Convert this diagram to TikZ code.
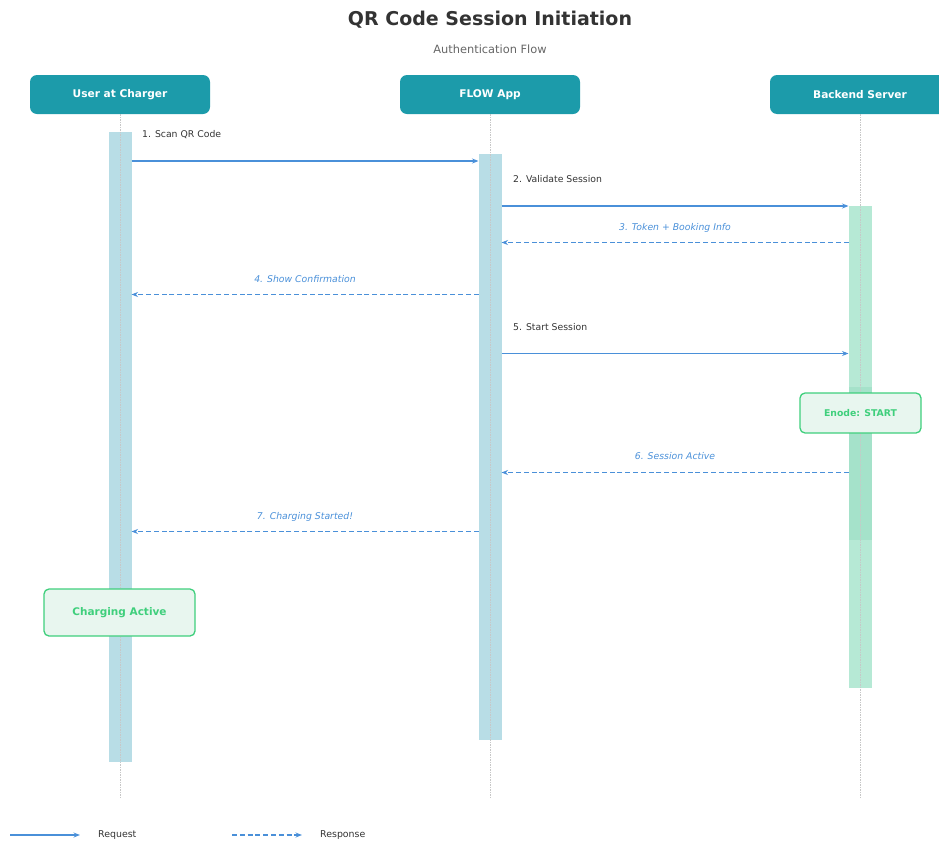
\documentclass[tikz,border=0pt]{standalone}
\usepackage{fontspec}
\setmainfont{DejaVu Sans}
\usetikzlibrary{arrows.meta}
\definecolor{actor}{HTML}{1C9BAA}
\definecolor{msg}{HTML}{4A90D9}
\definecolor{txt}{HTML}{333333}
\definecolor{subtxt}{HTML}{666666}
\definecolor{barblue}{HTML}{B8DDE6}
\definecolor{bargreen}{HTML}{B6E9D5}
\definecolor{bargreendk}{HTML}{A5E2CA}
\definecolor{okgreen}{HTML}{3FCF7C}
\definecolor{okfill}{HTML}{E8F6EF}
\tikzset{
  actorbox/.style={fill=actor, rounded corners=7pt, minimum width=180pt, minimum height=39pt,
    text=white, font=\fontsize{10.6}{12}\selectfont\bfseries, inner sep=0pt},
  lifeline/.style={draw=black!22, line width=0.5pt, dash pattern=on 1.5pt off 1pt},
  req/.style={draw=msg, line width=1.3pt, -{Stealth[length=6.5pt,width=5pt]}},
  resp/.style={draw=msg, line width=1.3pt, dash pattern=on 5pt off 2.8pt, -{Stealth[length=6.5pt,width=5pt]}},
  reqlabel/.style={anchor=base west, text=txt, font=\fontsize{9.3}{11}\selectfont, inner sep=0pt},
  resplabel/.style={anchor=base, text=msg, font=\fontsize{9.3}{11}\selectfont\itshape, inner sep=0pt},
  legendtext/.style={anchor=west, text=txt, font=\fontsize{9.4}{11}\selectfont, inner sep=0pt},
  notebox/.style={draw=okgreen, fill=okfill, line width=1.3pt, rounded corners=5pt,
    text=okgreen, inner sep=0pt},
}
\begin{document}
\begin{tikzpicture}[x=1pt, y=-1pt]
\useasboundingbox (0,0) rectangle (939,841);

% title
\node[text=txt, font=\fontsize{19}{22}\selectfont\bfseries] (title) at (490,20) {QR Code Session Initiation};
\node[text=subtxt, font=\fontsize{11.4}{13}\selectfont] (subtitle) at (490,49) {Authentication Flow};

% actors
\node[actorbox] (user) at (120,94.5) {User at Charger};
\node[actorbox] (app) at (490,94.5) {FLOW App};
\node[actorbox] (server) at (860,94.5) {Backend Server};

% activation bars
\fill[barblue] (108.5,131.5) rectangle (131.5,762);
\fill[barblue] (478.5,153.5) rectangle (501.5,740);
\fill[bargreen] (848.5,205.5) rectangle (871.5,688);
\fill[bargreendk] (848.5,387) rectangle (871.5,540);

% lifelines
\coordinate (userend) at (120,798);
\coordinate (append) at (490,798);
\coordinate (serverend) at (860,798);
\draw[lifeline] (user.south) -- (userend);
\draw[lifeline] (app.south) -- (append);
\draw[lifeline] (server.south) -- (serverend);

% messages
\coordinate (u1) at (131.5,161); \coordinate (a1) at (478.5,161);
\draw[req] (u1) -- (a1);
\node[reqlabel] (l1) at (142,137.5) {1. Scan QR Code};

\coordinate (a2) at (501.5,206); \coordinate (s2) at (848.5,206);
\draw[req] (a2) -- (s2);
\node[reqlabel] (l2) at (513,182) {2. Validate Session};

\coordinate (s3) at (848.5,242.5); \coordinate (a3) at (501.5,242.5);
\draw[resp] (s3) -- (a3);
\node[resplabel] (l3) at (675,230) {3. Token + Booking Info};

\coordinate (a4) at (478.5,294.5); \coordinate (u4) at (131.5,294.5);
\draw[resp] (a4) -- (u4);
\node[resplabel] (l4) at (305,282) {4. Show Confirmation};

\coordinate (a5) at (501.5,353.5); \coordinate (s5) at (848.5,353.5);
\draw[req] (a5) -- (s5);
\node[reqlabel] (l5) at (513,330) {5. Start Session};

\node[notebox, minimum width=121pt, minimum height=40pt, font=\fontsize{9.3}{11}\selectfont\bfseries] (enode) at (860.5,413) {Enode: START};

\coordinate (s6) at (848.5,472.5); \coordinate (a6) at (501.5,472.5);
\draw[resp] (s6) -- (a6);
\node[resplabel] (l6) at (675,459.5) {6. Session Active};

\coordinate (a7) at (478.5,531.5); \coordinate (u7) at (131.5,531.5);
\draw[resp] (a7) -- (u7);
\node[resplabel] (l7) at (305,519) {7. Charging Started!};

\node[notebox, minimum width=151pt, minimum height=47pt, font=\fontsize{10.5}{12}\selectfont\bfseries] (charging) at (119.5,612.5) {Charging Active};

% legend
\coordinate (r0) at (10,835); \coordinate (r1) at (80,835);
\draw[req] (r0) -- (r1);
\node[legendtext] (reqtext) at (98,835) {Request};
\coordinate (p0) at (232,835); \coordinate (p1) at (302,835);
\draw[resp] (p0) -- (p1);
\node[legendtext] (resptext) at (320,835) {Response};
\end{tikzpicture}
\end{document}
